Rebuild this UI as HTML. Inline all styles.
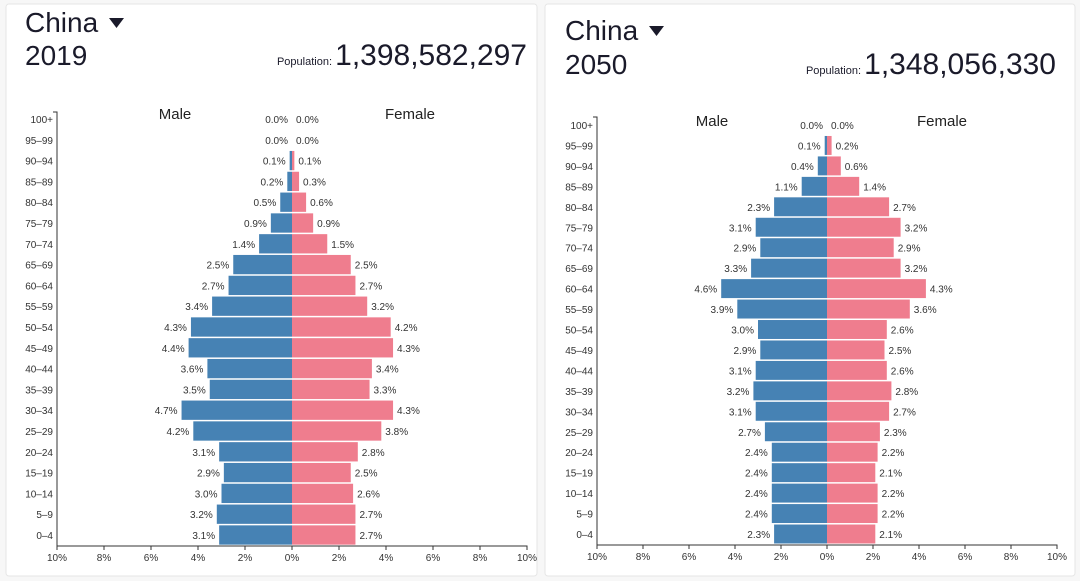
<!DOCTYPE html>
<html><head><meta charset="utf-8">
<style>
body{margin:0;width:1080px;height:581px;background:#f7f7f7;font-family:"Liberation Sans",sans-serif;overflow:hidden}
svg{position:absolute;left:0;top:0}
</style></head>
<body>
<svg id="c" width="1080" height="581"></svg>
<script>
const ages=["0–4","5–9","10–14","15–19","20–24","25–29","30–34","35–39","40–44","45–49","50–54","55–59","60–64","65–69","70–74","75–79","80–84","85–89","90–94","95–99","100+"];
const male2019=[3.1,3.2,3.0,2.9,3.1,4.2,4.7,3.5,3.6,4.4,4.3,3.4,2.7,2.5,1.4,0.9,0.5,0.2,0.1,0.0,0.0];
const female2019=[2.7,2.7,2.6,2.5,2.8,3.8,4.3,3.3,3.4,4.3,4.2,3.2,2.7,2.5,1.5,0.9,0.6,0.3,0.1,0.0,0.0];
const male2050=[2.3,2.4,2.4,2.4,2.4,2.7,3.1,3.2,3.1,2.9,3.0,3.9,4.6,3.3,2.9,3.1,2.3,1.1,0.4,0.1,0.0];
const female2050=[2.1,2.2,2.2,2.1,2.2,2.3,2.7,2.8,2.6,2.5,2.6,3.6,4.3,3.2,2.9,3.2,2.7,1.4,0.6,0.2,0.0];
const ticks=[10,8,6,4,2,0,2,4,6,8,10];
const titles=["2019","2050"];
const pops=["1,398,582,297","1,348,056,330"];

const svg=document.getElementById('c');
const NS="http://www.w3.org/2000/svg";
function mk(t,a,txt){const e=document.createElementNS(NS,t);for(const k in a)e.setAttribute(k,a[k]);if(txt!==undefined)e.textContent=txt;svg.appendChild(e);return e;}

const panels=[
 {card:[6,4,531,572],cx:292,ppu:23.5,y0:535,dy:20.8,axisY:546,axisTop:112,tx:25,ty1:32,ty2:65,popR:527,popY:65,maleX:175,femX:410,labY:119,m:male2019,f:female2019},
 {card:[545,4,530,572],cx:827,ppu:23,y0:534,dy:20.45,axisY:545,axisTop:117,tx:565,ty1:40,ty2:74,popR:1056,popY:74,maleX:712,femX:942,labY:126,m:male2050,f:female2050}
];
panels.forEach((p,pi)=>{
 const card=mk('rect',{x:p.card[0],y:p.card[1],width:p.card[2],height:p.card[3],fill:'#fff',stroke:'#e6e6e6',rx:3});
 
 
 const t1=mk('text',{x:p.tx,y:p.ty1,'font-size':28,fill:'#1a1a2a'},'China');
 
 
 const tri=mk('path',{d:`M${p.tx+84} ${p.ty1-14}h15l-7.5 10z`,fill:'#1a1a2a'});
 
 
 const t2=mk('text',{x:p.tx,y:p.ty2,'font-size':28,fill:'#1a1a2a'},titles[pi]);
 
 
 const pv=mk('text',{x:p.popR,y:p.popY,'font-size':30,fill:'#1a1a2a','text-anchor':'end'},pops[pi]);
 
 
 const pl=mk('text',{x:p.popR-195,y:p.popY,'font-size':11,fill:'#1a1a2a','text-anchor':'end'},'Population:');
 
 
 const ml=mk('text',{x:p.maleX,y:p.labY,'font-size':15,fill:'#222','text-anchor':'middle'},'Male');
 
 
 const fl=mk('text',{x:p.femX,y:p.labY,'font-size':15,fill:'#222','text-anchor':'middle'},'Female');
 
 
 const X=v=>p.cx+v*p.ppu;
 const Y=i=>p.y0-i*p.dy;
 const bh=p.dy-1.5;
 ages.forEach((a,i)=>{
  const y=Y(i);
  const mb=mk('rect',{x:X(-p.m[i]),y:y-bh/2,width:p.m[i]*p.ppu,height:bh,fill:'#4682b4'});
  
  
  const fb=mk('rect',{x:p.cx,y:y-bh/2,width:p.f[i]*p.ppu,height:bh,fill:'#ef7d8e'});
  
  
  const mv=mk('text',{x:X(-p.m[i])-4,y:y+4,'font-size':10,fill:'#333','text-anchor':'end'},p.m[i].toFixed(1)+'%');
  
  
  const fv=mk('text',{x:X(p.f[i])+4,y:y+4,'font-size':10,fill:'#333'},p.f[i].toFixed(1)+'%');
  
  
  const al=mk('text',{x:X(-10)-4,y:y+4,'font-size':10,fill:'#333','text-anchor':'end'},a);
  
  
 });
 const ya=mk('path',{d:`M${X(-10)-4} ${p.axisTop}H${X(-10)}V${p.axisY}`,stroke:'#333',fill:'none'});
 
 
 const xa=mk('path',{d:`M${X(-10)} ${p.axisY+4}V${p.axisY}H${X(10)}V${p.axisY+4}`,stroke:'#333',fill:'none'});
 
 
 ticks.forEach((t,k)=>{
  const v=k<5?-t:t;
  mk('line',{x1:X(v),x2:X(v),y1:p.axisY,y2:p.axisY+4,stroke:'#333'});
  const tl=mk('text',{x:X(v),y:p.axisY+15,'font-size':10,fill:'#333','text-anchor':'middle'},t+'%');
  
  
 });
});
</script>
</body></html>
